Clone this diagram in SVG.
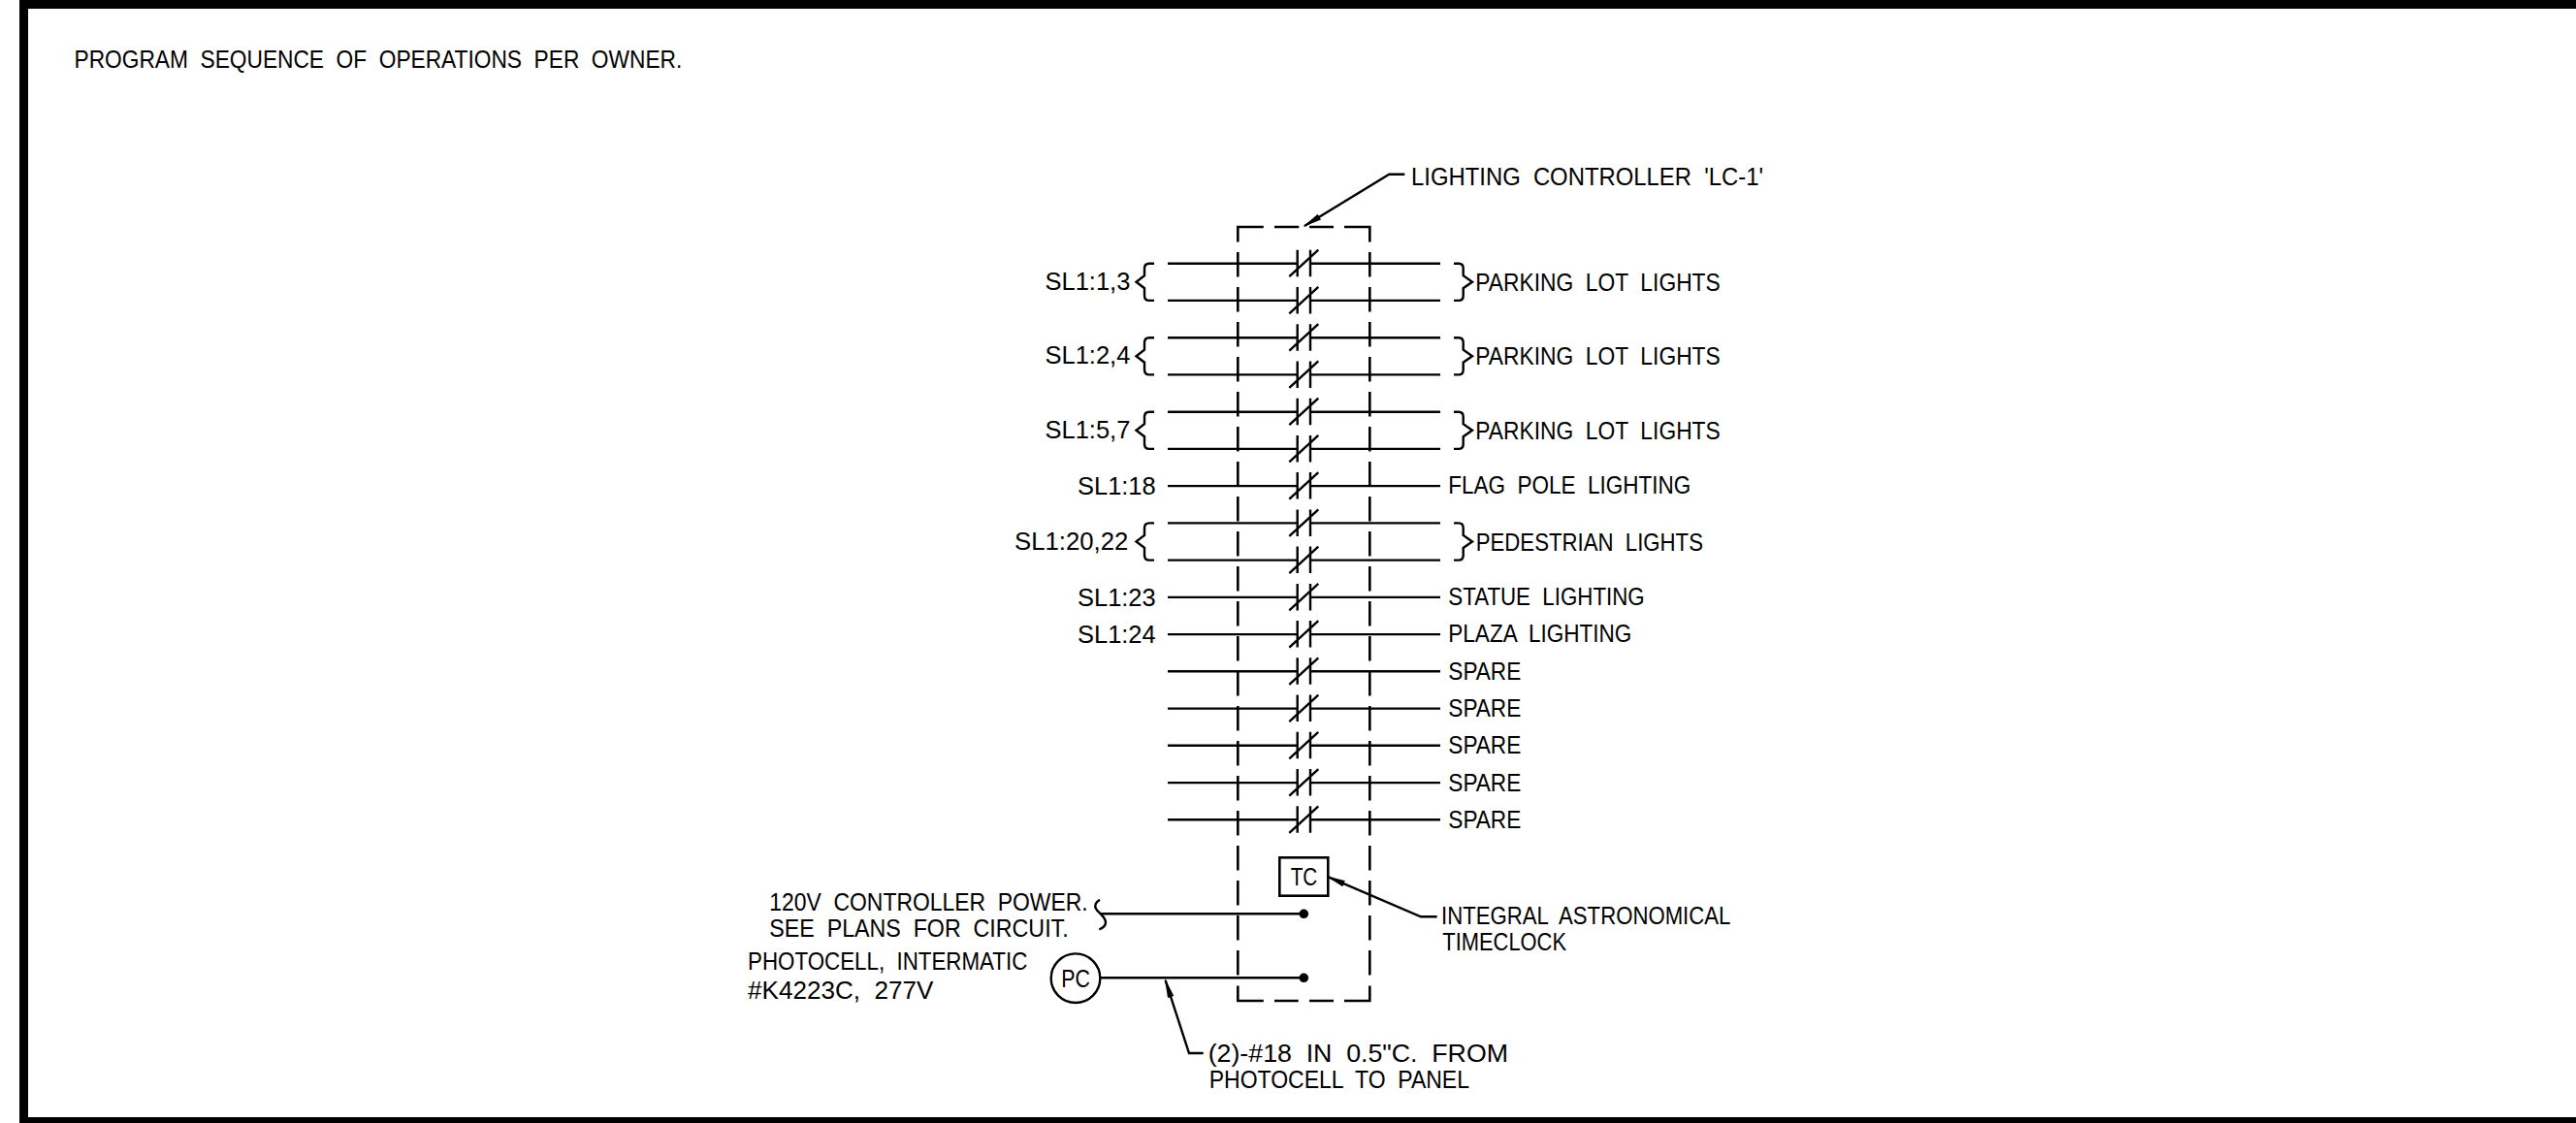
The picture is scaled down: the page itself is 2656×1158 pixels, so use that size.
<svg xmlns="http://www.w3.org/2000/svg" width="2656" height="1158" viewBox="0 0 2656 1158">
<style>
.l{fill:none;stroke:#000;stroke-width:2.4}
.d{fill:none;stroke:#000;stroke-width:2.6;stroke-dasharray:25.5 10.5}
.b{fill:none;stroke:#000;stroke-width:2.6}
.k{fill:#000;stroke:none}
text{font-family:"Liberation Sans",Arial,sans-serif;font-size:25.5px;fill:#000;word-spacing:7px;transform:translateY(.7px)}
</style>
<defs>
<marker id="ah" markerUnits="userSpaceOnUse" markerWidth="24" markerHeight="10" refX="18" refY="5" orient="auto"><path d="M0 1.7 L20 5 L0 8.3Z" fill="#000"/></marker>
<g id="contact"><path class="l" d="M1337.7 -14V13.5M1351 -14V13.5M1329.3 13.5L1359.3 -14"/></g>
<path id="bl" class="l" d="M1190 0H1185Q1180 0 1180 5V12.5L1171.5 19L1180 25.5V33Q1180 38.2 1185 38.2H1190"/>
<path id="br" class="l" d="M1499 0H1504Q1508.7 0 1508.7 5V12.5L1518 19L1508.7 25.5V33Q1508.7 38.2 1504 38.2H1499"/>
</defs>
<rect width="2656" height="1158" fill="#fff"/>
<g id="border" class="k"><rect x="20" y="0" width="2636" height="9"/><rect x="20" y="0" width="9" height="1158"/><rect x="20" y="1152" width="2636" height="6"/></g>
<g id="note"><text x="76.5" y="69.7" textLength="626.8" lengthAdjust="spacingAndGlyphs">PROGRAM SEQUENCE OF OPERATIONS PER OWNER.</text></g>
<g id="connectors">
<path class="l" d="M1204 271.7H1337.7M1351 271.7H1485M1204 309.9H1337.7M1351 309.9H1485M1204 348.2H1337.7M1351 348.2H1485M1204 386.4H1337.7M1351 386.4H1485M1204 424.7H1337.7M1351 424.7H1485M1204 462.9H1337.7M1351 462.9H1485M1204 501.1H1337.7M1351 501.1H1485M1204 539.4H1337.7M1351 539.4H1485M1204 577.6H1337.7M1351 577.6H1485M1204 615.9H1337.7M1351 615.9H1485M1204 654.1H1337.7M1351 654.1H1485M1204 692.3H1337.7M1351 692.3H1485M1204 730.6H1337.7M1351 730.6H1485M1204 768.8H1337.7M1351 768.8H1485M1204 807.1H1337.7M1351 807.1H1485M1204 845.3H1337.7M1351 845.3H1485"/>
<path class="l" d="M1135 942.2H1344.3M1134.3 1008.3H1344.3"/>
<path class="l" d="M1134 927.7C1130 930 1128 934 1130 937C1132 941 1140 945 1140 951C1140 955 1137 957 1133.3 958.3"/>
<path class="l" d="M1448.3 179.7H1432.3L1345 233" marker-end="url(#ah)"/>
<path class="l" d="M1481.7 945.3H1465L1369.1 904.1" marker-end="url(#ah)"/>
<path class="l" d="M1240.7 1086H1226L1201.6 1010.9" marker-end="url(#ah)"/>
</g>
<g id="lighting-controller">
<path class="b" d="M1276.3 249.6V234H1302.8M1314 234H1339.3M1350 234H1375M1386 234H1412.3V249.6"/>
<path class="d" d="M1276.3 260V1006"/>
<path class="d" d="M1412.3 260V1006"/>
<path class="b" d="M1276.3 1016.5V1032H1302.8M1314 1032H1338.7M1350 1032H1375M1386 1032H1412.3V1016.5"/>
<circle class="k" cx="1344.3" cy="942.3" r="4.8"/>
<circle class="k" cx="1344.3" cy="1008.3" r="4.8"/>
<text x="1455" y="190.3" textLength="363" lengthAdjust="spacingAndGlyphs">LIGHTING CONTROLLER 'LC-1'</text>
</g>
<g id="contacts">
<use href="#contact" y="271.7"/><use href="#contact" y="309.9"/><use href="#contact" y="348.2"/><use href="#contact" y="386.4"/><use href="#contact" y="424.7"/><use href="#contact" y="462.9"/><use href="#contact" y="501.1"/><use href="#contact" y="539.4"/><use href="#contact" y="577.6"/><use href="#contact" y="615.9"/><use href="#contact" y="654.1"/><use href="#contact" y="692.3"/><use href="#contact" y="730.6"/><use href="#contact" y="768.8"/><use href="#contact" y="807.1"/><use href="#contact" y="845.3"/>
</g>
<g id="group-sl1-1-3"><use href="#bl" y="271.7"/><use href="#br" y="271.7"/><text x="1077.5" y="298.3" textLength="87.8" lengthAdjust="spacingAndGlyphs">SL1:1,3</text><text x="1521.2" y="299" textLength="252.6" lengthAdjust="spacingAndGlyphs">PARKING LOT LIGHTS</text></g>
<g id="group-sl1-2-4"><use href="#bl" y="348.2"/><use href="#br" y="348.2"/><text x="1077.5" y="374.8" textLength="87.8" lengthAdjust="spacingAndGlyphs">SL1:2,4</text><text x="1521.2" y="375.7" textLength="252.6" lengthAdjust="spacingAndGlyphs">PARKING LOT LIGHTS</text></g>
<g id="group-sl1-5-7"><use href="#bl" y="424.7"/><use href="#br" y="424.7"/><text x="1077.5" y="451.3" textLength="87.8" lengthAdjust="spacingAndGlyphs">SL1:5,7</text><text x="1521.2" y="452.3" textLength="252.6" lengthAdjust="spacingAndGlyphs">PARKING LOT LIGHTS</text></g>
<g id="row-sl1-18"><text x="1111" y="509.5" textLength="80.7" lengthAdjust="spacingAndGlyphs">SL1:18</text><text x="1493.3" y="508.7" textLength="250" lengthAdjust="spacingAndGlyphs">FLAG POLE LIGHTING</text></g>
<g id="group-sl1-20-22"><use href="#bl" y="539.4"/><use href="#br" y="539.4"/><text x="1046" y="566" textLength="117.3" lengthAdjust="spacingAndGlyphs">SL1:20,22</text><text x="1521.7" y="567.3" textLength="234.3" lengthAdjust="spacingAndGlyphs">PEDESTRIAN LIGHTS</text></g>
<g id="row-sl1-23"><text x="1111" y="624.3" textLength="80.7" lengthAdjust="spacingAndGlyphs">SL1:23</text><text x="1493.3" y="623.3" textLength="202.4" lengthAdjust="spacingAndGlyphs">STATUE LIGHTING</text></g>
<g id="row-sl1-24"><text x="1111" y="662.7" textLength="80.7" lengthAdjust="spacingAndGlyphs">SL1:24</text><text x="1493.3" y="661.7" textLength="189" lengthAdjust="spacingAndGlyphs">PLAZA LIGHTING</text></g>
<g id="spares">
<text x="1493.3" y="700" textLength="75" lengthAdjust="spacingAndGlyphs">SPARE</text>
<text x="1493.3" y="738.3" textLength="75" lengthAdjust="spacingAndGlyphs">SPARE</text>
<text x="1493.3" y="776.7" textLength="75" lengthAdjust="spacingAndGlyphs">SPARE</text>
<text x="1493.3" y="815" textLength="75" lengthAdjust="spacingAndGlyphs">SPARE</text>
<text x="1493.3" y="853.3" textLength="75" lengthAdjust="spacingAndGlyphs">SPARE</text>
</g>
<g id="timeclock"><rect class="b" x="1319.3" y="884.3" width="50" height="39.4"/><text x="1330.7" y="912.7" textLength="27.6" lengthAdjust="spacingAndGlyphs">TC</text>
<text x="1486" y="952.7" textLength="298.4" lengthAdjust="spacingAndGlyphs">INTEGRAL ASTRONOMICAL</text><text x="1487.3" y="979.3" textLength="127.7" lengthAdjust="spacingAndGlyphs">TIMECLOCK</text></g>
<g id="power"><text x="793.3" y="938.3" textLength="328.4" lengthAdjust="spacingAndGlyphs">120V CONTROLLER POWER.</text><text x="793.3" y="965" textLength="308.4" lengthAdjust="spacingAndGlyphs">SEE PLANS FOR CIRCUIT.</text></g>
<g id="photocell"><circle class="l" cx="1109" cy="1008.7" r="25.3"/><text x="1094.3" y="1017" textLength="29.7" lengthAdjust="spacingAndGlyphs">PC</text>
<text x="771" y="999" textLength="288.3" lengthAdjust="spacingAndGlyphs">PHOTOCELL, INTERMATIC</text><text x="771" y="1029" textLength="191.3" lengthAdjust="spacingAndGlyphs">#K4223C, 277V</text></g>
<g id="conduit-note"><text x="1245.7" y="1094.3" textLength="309.3" lengthAdjust="spacingAndGlyphs">(2)-#18 IN 0.5"C. FROM</text><text x="1246.7" y="1121" textLength="268.3" lengthAdjust="spacingAndGlyphs">PHOTOCELL TO PANEL</text></g>
</svg>
